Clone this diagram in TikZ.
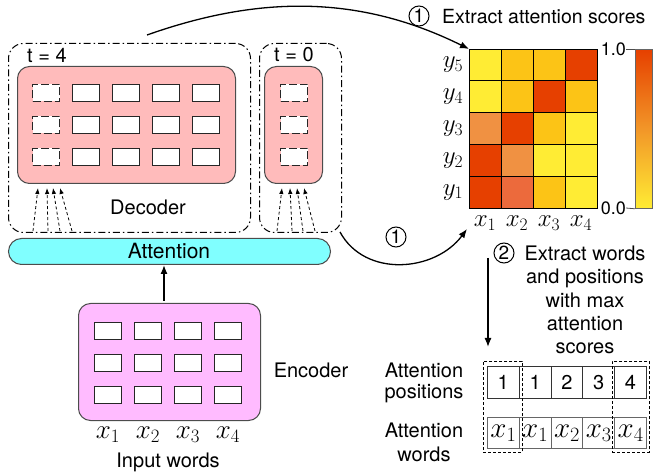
\documentclass[tikz,border=0pt]{standalone}
\usepackage{fix-cm}
\usepackage{fontspec}
\setmainfont{TeX Gyre Heros}
\usetikzlibrary{arrows.meta}
\definecolor{hy}{RGB}{255,236,52}
\definecolor{ha}{RGB}{252,196,22}
\definecolor{hr}{RGB}{230,64,0}
\definecolor{ho}{RGB}{240,145,66}
\definecolor{hq}{RGB}{236,106,60}
\definecolor{hm}{RGB}{242,150,40}
\definecolor{decpink}{RGB}{255,187,187}
\definecolor{encpink}{RGB}{255,187,255}
\definecolor{attcyan}{RGB}{128,255,255}
\begin{document}
\begin{tikzpicture}[x=1pt,y=-1pt,
  txt/.style={font=\fontsize{20}{23}\selectfont, inner sep=0},
  mth/.style={font=\fontsize{27}{30}\selectfont, inner sep=0},
  mths/.style={font=\fontsize{25}{28}\selectfont, inner sep=0},
  unit/.style={draw=black!85, fill=white, line width=1pt, minimum width=27pt, minimum height=17pt, inner sep=0, anchor=north west},
  dunit/.style={unit, dash pattern=on 8pt off 3pt},
  bigbox/.style={draw=black!70, line width=1pt, rounded corners=12pt, inner sep=0, anchor=north west},
  dashdot/.style={draw=black, line width=1pt, rounded corners=15pt, dash pattern=on 7pt off 3pt on 1.5pt off 3pt, inner sep=0, anchor=north west},
  hcell/.style={draw=black, line width=0.8pt, minimum width=32pt, minimum height=31.8pt, inner sep=0},
  pcell/.style={draw=black!80, line width=0.8pt, minimum width=31.8pt, minimum height=32pt, inner sep=0, anchor=north west, font=\fontsize{20}{23}\selectfont},
  wcell/.style={pcell, draw=black!60, line width=1pt, minimum height=31pt, font=\fontsize{29}{32}\selectfont},
  selbox/.style={draw=black, line width=0.7pt, dash pattern=on 3pt off 2pt, inner sep=0, anchor=north west},
  num/.style={draw=black, circle, line width=1pt, minimum size=20pt, inner sep=0, font=\fontsize{19}{21}\selectfont},
  arr/.style={-{Latex[length=9pt,width=7pt]}, line width=1.3pt},
  darr/.style={-{Latex[length=6pt,width=4.5pt]}, line width=0.8pt, dash pattern=on 3pt off 2.5pt},
]
\useasboundingbox (0,0) rectangle (654,473);

% ---------------- Decoder ----------------
\node[dashdot, minimum width=242pt, minimum height=189pt] (out4) at (8,43) {};
\node[dashdot, minimum width=82pt, minimum height=189pt] (out0) at (259,43) {};
\node[txt, anchor=west] (t4) at (27,55) {t = 4};
\node[txt, anchor=west] (t0) at (274,55) {t = 0};
\node[bigbox, fill=decpink, minimum width=218pt, minimum height=117pt] (dec4) at (17,66) {};
\node[bigbox, fill=decpink, minimum width=58pt, minimum height=117pt] (dec0) at (264,66) {};
\foreach \r/\y in {0/84,1/116,2/148} {
  \node[dunit] (d4-0-\r) at (32,\y) {};
  \foreach \c/\x in {1/72,2/112,3/152,4/192} {
    \node[unit] (d4-\c-\r) at (\x,\y) {};
  }
  \node[dunit] (d0-\r) at (280,\y) {};
}
\node[txt] (declab) at (148,207) {Decoder};

% dashed arrows into decoders
\foreach \i/\a/\b in {1/33/38,2/48/47,3/60/53,4/72/60} {
  \coordinate (s4-\i) at (\a,231);
  \coordinate (e4-\i) at (\b,188);
  \draw[darr] (s4-\i) -- (e4-\i);
}
\foreach \i/\a/\b in {1/277/282,2/292/290,3/303/297,4/315/304} {
  \coordinate (s0-\i) at (\a,231);
  \coordinate (e0-\i) at (\b,188);
  \draw[darr] (s0-\i) -- (e0-\i);
}

% ---------------- Attention ----------------
\node[draw=black!70, line width=1pt, fill=attcyan, rounded corners=13pt, minimum width=322pt, minimum height=26pt, inner sep=0, anchor=north west] (att) at (8,238) {};
\node[font=\fontsize{21}{24}\selectfont, inner sep=0] (attlab) at (169,251) {Attention};

% ---------------- Encoder ----------------
\node[bigbox, fill=encpink, minimum width=182pt, minimum height=117pt] (enc) at (78,303) {};
\foreach \r/\y in {0/322,1/354,2/386} {
  \foreach \c/\x in {0/94,1/134,2/174,3/214} {
    \node[unit] (e-\c-\r) at (\x,\y) {};
  }
}
\node[txt] (enclab) at (311,370) {Encoder};
\foreach \i/\x in {1/108,2/148,3/188,4/228} {
  \node[mth] (in\i) at (\x,435) {$x_\i$};
}
\node[txt] (inlab) at (168,462) {Input words};
\coordinate (encup) at (164,301);
\draw[arr] (encup) -- (att.south -| encup);

% ---------------- Heatmap ----------------
\foreach \row [count=\j from 0] in {{hy,ha,ha,hr},{hy,ha,hr,ha},{ho,hr,ha,hy},{hr,ho,hy,hy},{hr,hq,ha,hy}} {
  \foreach \cc [count=\i from 0] in \row {
    \node[hcell, fill=\cc] (h-\i-\j) at ({485+32*\i},{64.9+31.8*\j}) {};
  }
}
\node[draw=black, line width=1pt, minimum width=128pt, minimum height=159pt, inner sep=0, anchor=north west] (hmap) at (469,49) {};
\foreach \lab [count=\j from 0] in {5,4,3,2,1} {
  \node[mths] (yl\lab) at (453,{64.9+31.8*\j}) {$y_\lab$};
}
\foreach \i [count=\k from 0] in {1,2,3,4} {
  \node[mths] (xl\i) at ({485+32*\k},223) {$x_\i$};
}
% colorbar
\node[draw=black!60, line width=0.8pt, minimum width=17pt, minimum height=159pt, inner sep=0, anchor=north west,
      top color=hr, bottom color=hy, middle color=hm] (cbar) at (635,49) {};
\coordinate (tk1) at (626,49);
\coordinate (tk0) at (626,208);
\draw[black!70, line width=0.8pt] (tk1) -- (cbar.north west);
\draw[black!70, line width=0.8pt] (tk0) -- (cbar.south west);
\node[font=\fontsize{18}{20}\selectfont, inner sep=0, anchor=east] (cb1) at (tk1) {1.0};
\node[font=\fontsize{18}{20}\selectfont, inner sep=0, anchor=east] (cb0) at (tk0) {0.0};

% step 1 label top
\node[num] (n1a) at (419,16) {1};
\node[font=\fontsize{19.5}{22}\selectfont, inner sep=0, anchor=west] (s1lab) at (442,17) {Extract attention scores};

% curved arrows
\coordinate (c1s) at (147,35);
\draw[arr] (c1s) .. controls (260,-5) and (360,-5) .. (hmap.north west);
\coordinate (c2s) at (340,232);
\coordinate (c2e) at (467,229);
\draw[arr] (c2s) .. controls (365,278) and (435,272) .. (c2e);
\node[num] (n1b) at (396,237) {1};

% step 2
\coordinate (dtop) at (488,258);
\coordinate (dbot) at (488,347);
\draw[arr] (dtop) -- (dbot);
\node[num] (n2) at (504,253) {2};
\node[txt, align=center, font=\fontsize{20}{23.2}\selectfont] (s2lab) at (585,300) {Extract words\\and positions\\with max\\attention\\scores};

% attention positions / words
\foreach \v [count=\k from 0] in {1,1,2,3,4} {
  \node[pcell] (p\k) at ({487+31.8*\k},366) {\v};
}
\foreach \v [count=\k from 0] in {1,1,2,3,4} {
  \node[wcell] (w\k) at ({487+31.8*\k},417) {$x_\v$};
}
\node[selbox, minimum width=39pt, minimum height=91pt] (sel1) at (483,361) {};
\node[selbox, minimum width=37pt, minimum height=91pt] (sel2) at (612,361) {};
\node[txt, align=center, font=\fontsize{20}{21}\selectfont] (plab) at (424,383) {Attention\\positions};
\node[txt, align=center, font=\fontsize{20}{24}\selectfont] (wlab) at (424,442) {Attention\\words};
\end{tikzpicture}
\end{document}
